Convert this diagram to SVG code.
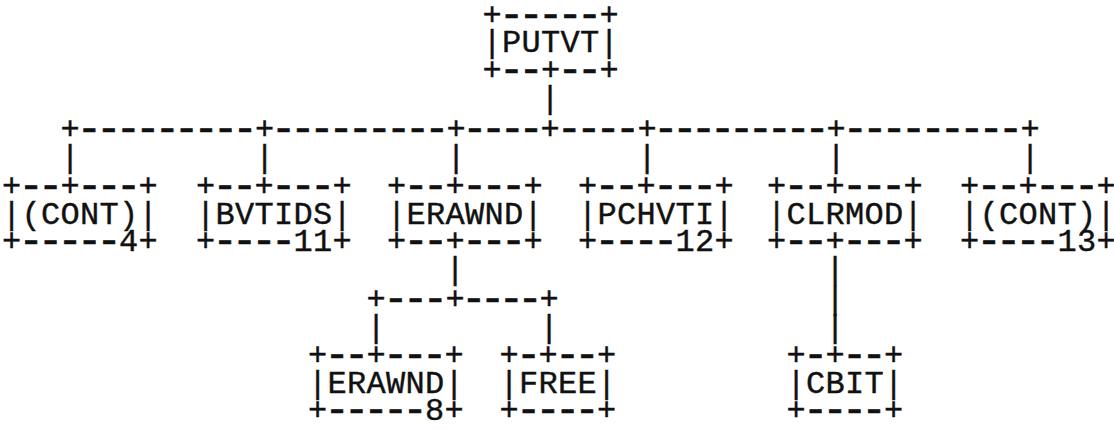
<svg xmlns="http://www.w3.org/2000/svg" width="1114" height="429" viewBox="0 0 1114 429">
<style>
text{font-family:"Liberation Mono","DejaVu Sans Mono",monospace;font-size:32px;fill:#111;text-anchor:middle;stroke:#111;stroke-width:0.4}
tspan.d{font-size:42px;stroke-width:0.7}
</style>
<rect width="1114" height="429" fill="#fff"/>
<g id="connectors">
<text x="550" y="108">|</text>
<text x="70 89.45 108.9 128.35 147.8 167.25 186.7 206.15 225.6 245.05 264.5 283.65 302.8 321.95 341.1 360.25 379.4 398.55 417.7 436.85 456 474.8 493.6 512.4 531.2 550 569.4 588.8 608.2 627.6 647 665.9 684.8 703.7 722.6 741.5 760.4 779.3 798.2 817.1 836 855.4 874.8 894.2 913.6 933 952.4 971.8 991.2 1010.6 1030" y="139">+<tspan class="d" dy="2.7">---------</tspan><tspan dy="-2.7">+</tspan><tspan class="d" dy="2.7">---------</tspan><tspan dy="-2.7">+</tspan><tspan class="d" dy="2.7">----</tspan><tspan dy="-2.7">+</tspan><tspan class="d" dy="2.7">----</tspan><tspan dy="-2.7">+</tspan><tspan class="d" dy="2.7">---------</tspan><tspan dy="-2.7">+</tspan><tspan class="d" dy="2.7">---------</tspan><tspan dy="-2.7">+</tspan></text>
<text x="70 264.5 456 647 836 1030" y="167">||||||</text>
<text x="455 835" y="279">||</text>
<text x="376 395.75 415.5 435.25 455 473.8 492.6 511.4 530.2 549" y="309">+<tspan class="d" dy="2.7">---</tspan><tspan dy="-2.7">+</tspan><tspan class="d" dy="2.7">----</tspan><tspan dy="-2.7">+</tspan></text>
<text x="835" y="309">|</text>
<text x="376 549 835" y="337">|||</text>
</g>
<g id="node-putvt">
<text x="492 511.5 531 550.5 570 589.5 609" y="25">+<tspan class="d" dy="2.7">-----</tspan><tspan dy="-2.7">+</tspan></text>
<text x="492 511.5 531 550.5 570 589.5 609" y="52">|PUTVT|</text>
<text x="492 511.5 531 550.5 570 589.5 609" y="80">+<tspan class="d" dy="2.7">--</tspan><tspan dy="-2.7">+</tspan><tspan class="d" dy="2.7">--</tspan><tspan dy="-2.7">+</tspan></text>
</g>
<g id="node-cont-4">
<text x="11.5 31 50.5 70 89.5 109 128.5 148" y="196">+<tspan class="d" dy="2.7">--</tspan><tspan dy="-2.7">+</tspan><tspan class="d" dy="2.7">---</tspan><tspan dy="-2.7">+</tspan></text>
<text x="11.5 31 50.5 70 89.5 109 128.5 148" y="224">|(CONT)|</text>
<text x="11.5 31 50.5 70 89.5 109 128.5 148" y="251">+<tspan class="d" dy="2.7">-----</tspan><tspan dy="-2.7">4+</tspan></text>
</g>
<g id="node-bvtids">
<text x="205.5 225 244.5 264 283.5 303 322.5 342" y="196">+<tspan class="d" dy="2.7">--</tspan><tspan dy="-2.7">+</tspan><tspan class="d" dy="2.7">---</tspan><tspan dy="-2.7">+</tspan></text>
<text x="205.5 225 244.5 264 283.5 303 322.5 342" y="224">|BVTIDS|</text>
<text x="205.5 225 244.5 264 283.5 303 322.5 342" y="251">+<tspan class="d" dy="2.7">----</tspan><tspan dy="-2.7">11+</tspan></text>
</g>
<g id="node-erawnd">
<text x="396.5 416 435.5 455 474.5 494 513.5 533" y="196">+<tspan class="d" dy="2.7">--</tspan><tspan dy="-2.7">+</tspan><tspan class="d" dy="2.7">---</tspan><tspan dy="-2.7">+</tspan></text>
<text x="396.5 416 435.5 455 474.5 494 513.5 533" y="224">|ERAWND|</text>
<text x="396.5 416 435.5 455 474.5 494 513.5 533" y="251">+<tspan class="d" dy="2.7">--</tspan><tspan dy="-2.7">+</tspan><tspan class="d" dy="2.7">---</tspan><tspan dy="-2.7">+</tspan></text>
</g>
<g id="node-pchvti">
<text x="587.5 607 626.5 646 665.5 685 704.5 724" y="196">+<tspan class="d" dy="2.7">--</tspan><tspan dy="-2.7">+</tspan><tspan class="d" dy="2.7">---</tspan><tspan dy="-2.7">+</tspan></text>
<text x="587.5 607 626.5 646 665.5 685 704.5 724" y="224">|PCHVTI|</text>
<text x="587.5 607 626.5 646 665.5 685 704.5 724" y="251">+<tspan class="d" dy="2.7">----</tspan><tspan dy="-2.7">12+</tspan></text>
</g>
<g id="node-clrmod">
<text x="776.5 796 815.5 835 854.5 874 893.5 913" y="196">+<tspan class="d" dy="2.7">--</tspan><tspan dy="-2.7">+</tspan><tspan class="d" dy="2.7">---</tspan><tspan dy="-2.7">+</tspan></text>
<text x="776.5 796 815.5 835 854.5 874 893.5 913" y="224">|CLRMOD|</text>
<text x="776.5 796 815.5 835 854.5 874 893.5 913" y="251">+<tspan class="d" dy="2.7">--</tspan><tspan dy="-2.7">+</tspan><tspan class="d" dy="2.7">---</tspan><tspan dy="-2.7">+</tspan></text>
</g>
<g id="node-cont-13">
<text x="969.5 989 1008.5 1028 1047.5 1067 1086.5 1106" y="196">+<tspan class="d" dy="2.7">--</tspan><tspan dy="-2.7">+</tspan><tspan class="d" dy="2.7">---</tspan><tspan dy="-2.7">+</tspan></text>
<text x="969.5 989 1008.5 1028 1047.5 1067 1086.5 1106" y="224">|(CONT)|</text>
<text x="969.5 989 1008.5 1028 1047.5 1067 1086.5 1106" y="251">+<tspan class="d" dy="2.7">----</tspan><tspan dy="-2.7">13+</tspan></text>
</g>
<g id="node-erawnd-8">
<text x="317.5 337 356.5 376 395.5 415 434.5 454" y="365">+<tspan class="d" dy="2.7">--</tspan><tspan dy="-2.7">+</tspan><tspan class="d" dy="2.7">---</tspan><tspan dy="-2.7">+</tspan></text>
<text x="317.5 337 356.5 376 395.5 415 434.5 454" y="393">|ERAWND|</text>
<text x="317.5 337 356.5 376 395.5 415 434.5 454" y="420">+<tspan class="d" dy="2.7">-----</tspan><tspan dy="-2.7">8+</tspan></text>
</g>
<g id="node-free">
<text x="509 528.5 548 567.5 587 606.5" y="365">+<tspan class="d" dy="2.7">-</tspan><tspan dy="-2.7">+</tspan><tspan class="d" dy="2.7">--</tspan><tspan dy="-2.7">+</tspan></text>
<text x="509 528.5 548 567.5 587 606.5" y="393">|FREE|</text>
<text x="509 528.5 548 567.5 587 606.5" y="420">+<tspan class="d" dy="2.7">----</tspan><tspan dy="-2.7">+</tspan></text>
</g>
<g id="node-cbit">
<text x="796 815.5 835 854.5 874 893.5" y="365">+<tspan class="d" dy="2.7">-</tspan><tspan dy="-2.7">+</tspan><tspan class="d" dy="2.7">--</tspan><tspan dy="-2.7">+</tspan></text>
<text x="796 815.5 835 854.5 874 893.5" y="393">|CBIT|</text>
<text x="796 815.5 835 854.5 874 893.5" y="420">+<tspan class="d" dy="2.7">----</tspan><tspan dy="-2.7">+</tspan></text>
</g>
</svg>
